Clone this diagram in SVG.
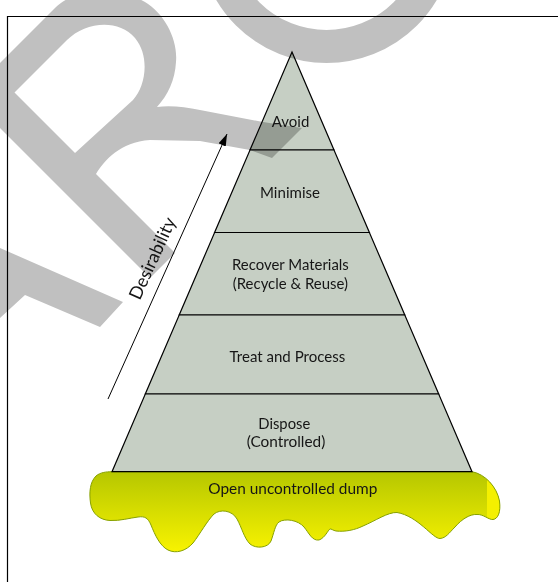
<svg xmlns="http://www.w3.org/2000/svg" width="558" height="582" viewBox="0 0 558 582">
<defs>
<linearGradient id="dumpGrad" x1="0" y1="472" x2="0" y2="552" gradientUnits="userSpaceOnUse">
<stop offset="0" stop-color="#b6c700"/>
<stop offset="1" stop-color="#f8f300"/>
</linearGradient>
<marker id="arrowHead" viewBox="0 0 12 8" refX="12" refY="4" markerWidth="12" markerHeight="8" markerUnits="userSpaceOnUse" orient="auto">
<path d="M0,0 L12,4 L0,8 Z" fill="#000"/>
</marker>
<path id="dumpShape" d="M112,471.7 L472,471.7 C485,474 497,487 499.5,501 C501,512 498,519 493,519.5 C489,520 483,514 477,514.5 C470,514 462,519 455,527 C449,533 446,538 440,538.5 C433,539 418,516 397,512.5 C388,512 375,521 363,526 C355,530 345,532 336,531 C333,530.5 331,528.5 330,529 C328,530 325,538 319,540 C312,541 309,533 304,527 C298,520 285,518 279,522 C275,525 274,533 271,541 C268,548 256,549 250,544 C244,538 242,528 237,519 C232,510 220,509 214,514 C207,521 200,534 193,543 C186,551 176,554 168,550 C160,546 155,535 151,525 C148,518 145,516 138,517 C130,518 120,521 110,520.5 C100,520 92,514 90.5,503 C89,492 90,482 96,476 C100,472.5 106,471.7 112,471.7 Z"/>
<clipPath id="dumpClip"><use href="#dumpShape"/></clipPath>
</defs>
<style>
.frame { fill:none; stroke:#000; stroke-width:1.2; }
.layer { fill:#c6cfc4; stroke:#000; stroke-width:1.2; stroke-linejoin:miter; }
.label { font-family: Lato, "Liberation Sans", sans-serif; font-size:16px; fill:#161616; text-anchor:middle; }
.conn { fill:none; stroke:#000; stroke-width:1; }
.wm { fill:#c0c0c0; }
</style>

<path class="frame" d="M7.5,582 V16.5 H558"/>

<g id="dump">
<use href="#dumpShape" fill="url(#dumpGrad)"/>
<rect x="487" y="470" width="20" height="60" fill="#f4f000" clip-path="url(#dumpClip)"/>
<use href="#dumpShape" fill="none" stroke="#86a000" stroke-width="1"/>
<text class="label" x="292.8" y="493.5" textLength="169" lengthAdjust="spacingAndGlyphs">Open uncontrolled dump</text>
</g>

<g id="layer-avoid">
<polygon class="layer" points="292,52 334,150 250,150"/>
<text class="label" x="290.5" y="127" textLength="37.6" lengthAdjust="spacingAndGlyphs">Avoid</text>
</g>
<g id="layer-minimise">
<polygon class="layer" points="250,150 334,150 369.4,232.5 214.6,232.5"/>
<text class="label" x="290" y="198.3" textLength="60" lengthAdjust="spacingAndGlyphs">Minimise</text>
</g>
<g id="layer-recover">
<polygon class="layer" points="214.6,232.5 369.4,232.5 404.8,315 179.2,315"/>
<text class="label" x="290.4" y="269.5" textLength="116.8" lengthAdjust="spacingAndGlyphs">Recover Materials</text>
<text class="label" x="290.4" y="289" textLength="115.3" lengthAdjust="spacingAndGlyphs">(Recycle &amp; Reuse)</text>
</g>
<g id="layer-treat">
<polygon class="layer" points="179.2,315 404.8,315 438.7,394 145.3,394"/>
<text class="label" x="287.4" y="362" textLength="115.7" lengthAdjust="spacingAndGlyphs">Treat and Process</text>
</g>
<g id="layer-dispose">
<polygon class="layer" points="145.3,394 438.7,394 472,471.7 112,471.7"/>
<text class="label" x="284.3" y="428.5" textLength="52" lengthAdjust="spacingAndGlyphs">Dispose</text>
<text class="label" x="286" y="447" textLength="78.7" lengthAdjust="spacingAndGlyphs">(Controlled)</text>
</g>

<g id="connectors">
<line class="conn" x1="108" y1="399" x2="227" y2="134" marker-end="url(#arrowHead)"/>
<text class="label" style="font-size:18px" transform="translate(158,261) rotate(-65.5)" x="0" y="0" textLength="88" lengthAdjust="spacingAndGlyphs">Desirability</text>
</g>

<g id="watermark" style="mix-blend-mode:multiply">
<path class="wm" fill-rule="evenodd" d="M-32.5,95.5 L55,8 C75,-12 115,-15 145,2 C165,14 178,40 176,62 C175,80 168,95 157,107 C170,105 185,107 200,110 L263,122 L302,128 L272,158 L250,150 L200,141 L150,140 C120,142 105,160 96,174 L175,253 L150,278 Z M14.5,92.5 L67,40 C85,22 118,18 135,38 C150,56 146,86 133,100 L75,153 Z"/>
<circle cx="326.5" cy="-65" r="111.5" fill="none" stroke="#c0c0c0" stroke-width="33"/>
<path class="wm" d="M0,248 L123,302 L100,327 L25,295 L0,318 Z"/>
</g>
</svg>
